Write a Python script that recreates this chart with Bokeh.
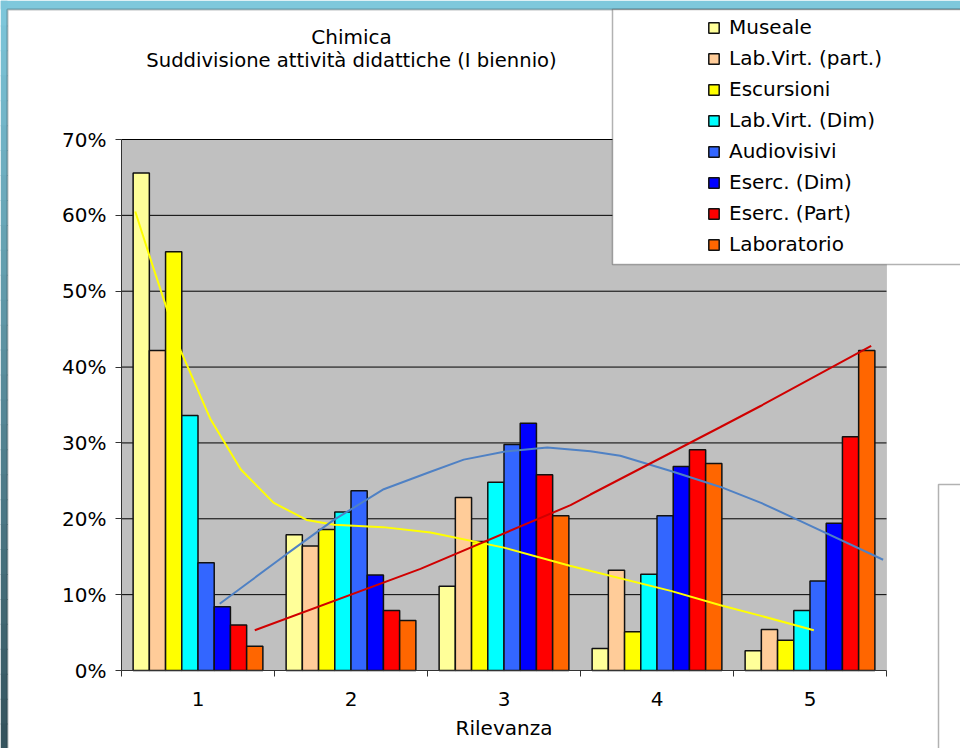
from bokeh.plotting import figure
from bokeh.models import (Range1d, LinearAxis, FixedTicker, PrintfTickFormatter, Grid,
                          Legend, LegendItem, Label, BoxAnnotation)
from bokeh.embed import file_html
from bokeh.resources import INLINE

# ---------------- data (values in %) ----------------
rilevanza = [1, 2, 3, 4, 5]
series_names = ["Museale", "Lab.Virt. (part.)", "Escursioni", "Lab.Virt. (Dim)",
                "Audiovisivi", "Eserc. (Dim)", "Eserc. (Part)", "Laboratorio"]
museale = [65.6, 17.9, 11.1, 2.9, 2.6]
lab_virt_part = [42.2, 16.4, 22.8, 13.2, 5.4]
escursioni = [55.2, 18.6, 17.0, 5.1, 4.0]
lab_virt_dim = [33.6, 20.9, 24.8, 12.7, 7.9]
audiovisivi = [14.2, 23.7, 29.8, 20.4, 11.8]
eserc_dim = [8.4, 12.6, 32.6, 26.9, 19.4]
eserc_part = [6.0, 7.9, 25.8, 29.1, 30.8]
laboratorio = [3.2, 6.6, 20.4, 27.3, 42.2]

# trend lines (x on the Rilevanza scale, y in %)
trend_yellow_x = [0.59, 0.69, 0.886, 1.08, 1.28, 1.495, 1.71, 1.89, 2.21, 2.52, 3.0, 3.43, 4.09, 4.415, 4.68, 5.025]
trend_yellow_y = [60.5, 54.2, 42.2, 33.2, 26.5, 22.1, 19.85, 19.2, 18.9, 18.2, 16.2, 13.8, 10.5, 8.6, 7.2, 5.3]
trend_blue_x = [1.142, 1.343, 1.583, 1.888, 2.214, 2.52, 2.737, 3.0, 3.283, 3.565, 3.76, 4.09, 4.415, 4.68, 4.938, 5.478]
trend_blue_y = [8.8, 11.8, 15.4, 19.85, 23.9, 26.2, 27.8, 28.85, 29.4, 28.9, 28.3, 26.3, 24.2, 22.1, 19.7, 14.6]
trend_red_x = [1.371, 2.454, 3.435, 3.565, 4.415, 4.68, 5.40]
trend_red_y = [5.3, 13.4, 21.8, 23.2, 32.1, 34.9, 42.8]

y_ticks = [0, 10, 20, 30, 40, 50, 60, 70]
category_edges = [0.5, 1.5, 2.5, 3.5, 4.5, 5.5]

# ---------------- layout / styles ----------------
W, H = 960, 748
PLOT_L, PLOT_R, PLOT_T, PLOT_B = 121, 886, 139, 670      # pixel box of the grey plot area
X0, X1 = 0.5, 5.5
Y0, Y1 = 0.0, 70.0
kx = (X1 - X0) / (PLOT_R - PLOT_L)
ky = (Y1 - Y0) / (PLOT_B - PLOT_T)
x_range = Range1d(X0 - PLOT_L * kx, X1 + (W - PLOT_R) * kx)
y_range = Range1d(Y0 - (H - PLOT_B) * ky, Y1 + PLOT_T * ky)

colors = ["#FFFF99", "#FFCC99", "#FFFF00", "#00FFFF", "#3366FF", "#0000FF", "#FF0000", "#FF6600"]
FONT = "DejaVu Sans"
all_series = [museale, lab_virt_part, escursioni, lab_virt_dim, audiovisivi, eserc_dim, eserc_part, laboratorio]

p = figure(width=W, height=H, x_range=x_range, y_range=y_range,
           x_axis_location=None, y_axis_location=None,
           toolbar_location=None, tools="", output_backend="svg",
           min_border=0, background_fill_color="white", border_fill_color="white",
           outline_line_color=None)
p.center = [c for c in p.center if not isinstance(c, Grid)]


def canvas_box(**kw):
    return BoxAnnotation(left_units="canvas", right_units="canvas",
                         top_units="canvas", bottom_units="canvas", **kw)


# blue frame around the chart area
p.add_layout(canvas_box(left=0, right=W, top=0, bottom=9,
                        fill_color="#7EC8DC", fill_alpha=1, line_alpha=0))
N = 30
c0 = (126, 200, 220)
c1 = (52, 82, 92)
for k in range(N):
    t = (k + 0.5) / N
    col = "#%02x%02x%02x" % tuple(int(round(a + (b - a) * t)) for a, b in zip(c0, c1))
    p.add_layout(canvas_box(left=0, right=7, top=k * H / N, bottom=(k + 1) * H / N + 1,
                            fill_color=col, fill_alpha=1, line_alpha=0))
p.add_layout(canvas_box(left=7, right=W + 40, top=9, bottom=H + 40,
                        fill_alpha=0, line_color="#1c2b30", line_width=2))

# grey plot area
plot_area = BoxAnnotation(left=X0, right=X1, bottom=Y0, top=Y1,
                          fill_color="#C0C0C0", fill_alpha=1,
                          line_color="#8a8a8a", line_width=1, level="underlay")
p.add_layout(plot_area)

# horizontal grid lines limited to the plot area
grid_levels = y_ticks[1:]
p.segment(x0=[X0] * len(grid_levels), x1=[X1] * len(grid_levels),
          y0=grid_levels, y1=grid_levels, line_color="black", line_width=1)

# axes
yticker = FixedTicker(ticks=y_ticks)
yaxis = LinearAxis(ticker=yticker, formatter=PrintfTickFormatter(format="%d%%"),
                   fixed_location=X0, bounds=(Y0, Y1),
                   major_tick_out=6, major_tick_in=0, minor_tick_line_color=None,
                   axis_line_color="#333333", major_tick_line_color="#333333",
                   major_label_standoff=9,
                   major_label_text_font=FONT, major_label_text_font_size="20px",
                   major_label_text_color="black")
p.add_layout(yaxis, "left")

xticker = FixedTicker(ticks=rilevanza, minor_ticks=category_edges)
xaxis = LinearAxis(ticker=xticker, axis_label="Rilevanza",
                   fixed_location=Y0, bounds=(X0, X1),
                   major_tick_out=0, major_tick_in=0, major_tick_line_color=None,
                   minor_tick_out=6, minor_tick_in=0, minor_tick_line_color="#333333",
                   axis_line_color="#333333", major_label_standoff=15,
                   major_label_text_font=FONT, major_label_text_font_size="20px",
                   major_label_text_color="black",
                   axis_label_text_font=FONT, axis_label_text_font_size="20px",
                   axis_label_text_color="black",
                   axis_label_text_font_style="normal", axis_label_standoff=7)
p.add_layout(xaxis, "below")

# bars
bar_w = 0.106
renderers = []
for i, (vals, col) in enumerate(zip(all_series, colors)):
    off = (i - 3.5) * bar_w
    xs = [c + off for c in rilevanza]
    r = p.vbar(x=xs, top=vals, bottom=0, width=bar_w, fill_color=col,
               line_color="#111111", line_width=1.5)
    renderers.append(r)

# trend lines
p.line(trend_yellow_x, trend_yellow_y, line_color="#FFFF00", line_width=2)
p.line(trend_blue_x, trend_blue_y, line_color="#4F81C4", line_width=2)
p.line(trend_red_x, trend_red_y, line_color="#D00000", line_width=2)

# legend box and the box at the right
p.add_layout(canvas_box(left=612, right=W + 40, top=9, bottom=264,
                        fill_color="white", fill_alpha=1, line_color="black", line_width=1.5))
p.add_layout(canvas_box(left=938, right=W + 40, top=484, bottom=H + 40,
                        fill_color="white", fill_alpha=1, line_color="black", line_width=1.5))

legend = Legend(items=[LegendItem(label=n, renderers=[r]) for n, r in zip(series_names, renderers)],
                location=(707, 492), orientation="vertical", border_line_color=None,
                background_fill_alpha=0, padding=0, margin=0, spacing=7, label_height=24,
                glyph_height=13, glyph_width=13, label_standoff=9,
                label_text_font=FONT, label_text_font_size="20px", label_text_color="black")
p.add_layout(legend)

# title
p.add_layout(Label(x=351, y=36, x_units="canvas", y_units="canvas", text="Chimica",
                   text_align="center", text_baseline="middle", text_font=FONT,
                   text_font_size="20px", text_color="black"))
p.add_layout(Label(x=351, y=60, x_units="canvas", y_units="canvas",
                   text="Suddivisione attività didattiche (I biennio)",
                   text_align="center", text_baseline="middle", text_font=FONT,
                   text_font_size="19.6px", text_color="black"))

open("out.html", "w").write(file_html(p, INLINE))
